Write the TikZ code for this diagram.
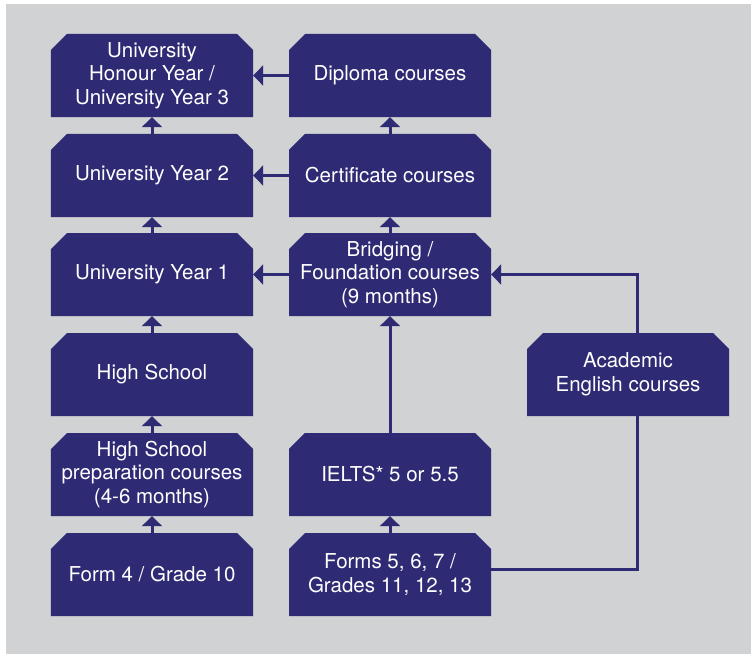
\documentclass[tikz,border=0pt]{standalone}
\usepackage{fontspec}
\setmainfont{TeX Gyre Heros}
\usetikzlibrary{shapes.misc,arrows.meta}
\definecolor{navy}{RGB}{46,42,116}
\definecolor{panel}{RGB}{209,210,212}
\tikzset{
  stage/.style={chamfered rectangle, chamfered rectangle corners={north west,north east},
    chamfered rectangle xsep=8bp, chamfered rectangle ysep=8bp,
    fill=navy, text=white, minimum width=202bp, minimum height=83bp, inner sep=0pt,
    align=center, font=\fontsize{20.5bp}{23.5bp}\selectfont},
  link/.style={navy, line width=3bp},
  arr/.style={link, -{Triangle[width=20bp,length=10bp]}}
}
\begin{document}
\begin{tikzpicture}[x=1bp, y=-1bp]
\useasboundingbox (0,0) rectangle (751,654);
\fill [panel] (6,4) rectangle (751,654);

% left column
\node [stage] (uy3) at (152,75.5) {University\\Honour Year /\\University Year 3};
\node [stage] (uy2) at (152,175.5) {University Year 2};
\node [stage] (uy1) at (152,274.5) {University Year 1};
\node [stage] (hs) at (152,374.5) {High School};
\node [stage] (hsprep) at (152,474.5) {High School\\preparation courses\\(4-6 months)};
\node [stage] (form4) at (152,574.5) {Form 4 / Grade 10};

% right column
\node [stage] (dip) at (390,75.5) {Diploma courses};
\node [stage] (cert) at (390,175.5) {Certificate courses};
\node [stage] (bridge) at (390,274.5) {Bridging /\\Foundation courses\\(9 months)};
\node [stage] (ielts) at (390,474.5) {IELTS* 5 or 5.5};
\node [stage] (forms) at (390,574.5) {Forms 5, 6, 7 /\\Grades 11, 12, 13};
\node [stage] (acad) at (628,374.5) {Academic\\English courses};

\draw [arr] (form4.north) -- (hsprep.south);
\draw [arr] (hsprep.north) -- (hs.south);
\draw [arr] (hs.north) -- (uy1.south);
\draw [arr] (uy1.north) -- (uy2.south);
\draw [arr] (uy2.north) -- (uy3.south);

\draw [arr] (forms.north) -- (ielts.south);
\draw [arr] (ielts.north) -- (bridge.south);
\draw [arr] (bridge.north) -- (cert.south);
\draw [arr] (cert.north) -- (dip.south);

\draw [arr] (dip.west) -- (uy3.east);
\draw [arr] (cert.west) -- (uy2.east);
\draw [arr] (bridge.west) -- (uy1.east);

\draw [arr] ([xshift=9bp]acad.north) |- (bridge.east);
\draw [link] ([yshift=5.5bp]forms.east) -| ([xshift=9bp]acad.south);
\end{tikzpicture}
\end{document}
